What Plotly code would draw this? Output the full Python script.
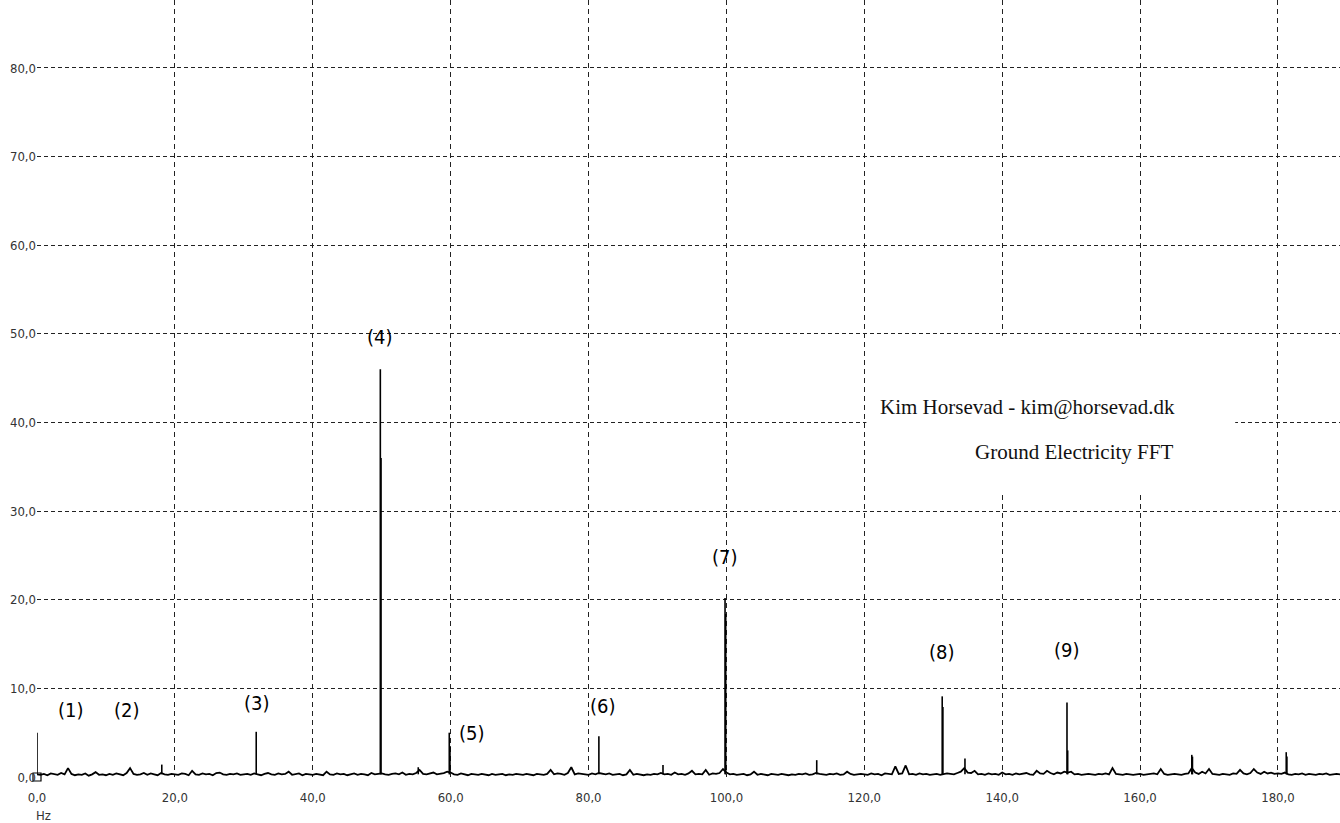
import plotly.graph_objects as go

# ---------------- data ----------------
# noise floor of the FFT, one value every 0.5 Hz from 0 Hz to 189 Hz
noise_start_hz = 0.0
noise_step_hz = 0.5
noise_amp = [
    0.30,0.25,0.35,0.20,0.40,0.30,0.25,0.45,0.30,1.00,0.35,0.20,0.30,0.25,0.40,0.15,0.30,0.55,0.25,0.30,
    0.20,0.35,0.25,0.40,0.30,0.20,0.45,1.00,0.35,0.25,0.30,0.45,0.25,0.40,0.30,0.20,0.45,0.30,0.25,0.35,
    0.30,0.25,0.40,0.35,0.20,0.70,0.30,0.25,0.40,0.30,0.35,0.20,0.45,0.50,0.30,0.25,0.35,0.30,0.40,0.25,
    0.30,0.35,0.25,0.40,0.30,0.20,0.35,0.45,0.30,0.25,0.40,0.30,0.35,0.60,0.25,0.30,0.40,0.20,0.35,0.30,
    0.25,0.35,0.30,0.20,0.60,0.30,0.25,0.40,0.30,0.35,0.20,0.30,0.40,0.25,0.35,0.30,0.20,0.45,0.30,0.35,
    0.40,0.30,0.25,0.35,0.40,0.30,0.50,0.25,0.35,0.30,0.45,0.80,0.35,0.30,0.40,0.50,0.30,0.35,0.45,0.60,
    0.50,0.30,0.25,0.40,0.30,0.20,0.35,0.30,0.25,0.35,0.30,0.20,0.35,0.25,0.30,0.35,0.20,0.30,0.25,0.35,
    0.30,0.25,0.35,0.30,0.20,0.35,0.30,0.25,0.35,0.80,0.30,0.40,0.35,0.25,0.45,1.10,0.30,0.40,0.35,0.30,
    0.25,0.40,0.30,0.45,0.35,0.30,0.40,0.25,0.30,0.35,0.20,0.30,0.80,0.25,0.35,0.30,0.20,0.30,0.25,0.35,
    0.30,0.45,0.30,0.35,0.25,0.50,0.30,0.35,0.25,0.40,0.70,0.30,0.35,0.30,0.80,0.25,0.40,0.35,0.45,0.90,
    0.50,0.30,0.35,0.25,0.30,0.35,0.20,0.30,0.60,0.25,0.35,0.30,0.20,0.35,0.30,0.25,0.35,0.30,0.20,0.30,
    0.25,0.35,0.30,0.40,0.25,0.30,0.45,0.35,0.30,0.25,0.35,0.30,0.40,0.25,0.30,0.60,0.35,0.25,0.30,0.35,
    0.30,0.25,0.40,0.30,0.35,0.20,0.40,0.35,0.30,1.20,0.35,0.40,1.30,0.30,0.35,0.25,0.40,0.30,0.35,0.25,
    0.30,0.35,0.25,0.30,0.40,0.35,0.30,0.45,0.60,1.00,0.50,0.45,0.70,0.30,0.35,0.25,0.40,0.30,0.35,0.25,
    0.50,0.30,0.35,0.25,0.40,0.30,0.35,0.45,0.30,0.25,0.70,0.40,0.35,0.70,0.45,0.30,0.50,0.40,0.60,0.50,
    0.60,0.30,0.35,0.25,0.30,0.35,0.30,0.25,0.35,0.30,0.40,0.30,1.00,0.35,0.30,0.25,0.35,0.30,0.25,0.30,
    0.35,0.25,0.30,0.35,0.40,0.30,0.90,0.35,0.25,0.30,0.35,0.30,0.25,0.35,0.40,1.00,0.50,0.35,0.60,0.40,
    0.90,0.35,0.30,0.25,0.35,0.30,0.25,0.40,0.35,0.80,0.40,0.30,0.45,0.90,0.50,0.35,0.60,0.40,0.50,0.35,
    0.40,0.35,0.50,0.30,0.25,0.35,0.30,0.40,0.25,0.35,0.30,0.25,0.35,0.30,0.40,0.25,0.30,0.35,0.30,
]

# narrow spectral lines: frequency (Hz), peak amplitude, amplitude of the neighbouring bin
spike_freq = [0.0, 18.1, 31.8, 49.8, 55.3, 59.8, 81.5, 90.8, 99.8, 113.1, 131.3, 134.6, 149.4, 167.5, 181.2]
spike_amp  = [5.0, 1.4,  5.1,  46.0, 1.1,  5.0,  4.6,  1.35, 20.2, 1.9,   9.1,   2.1,   8.4,   2.5,   2.8]
spike_amp2 = [0.3, 0.3,  0.3,  36.0, 0.3,  3.5,  0.3,  0.3,  18.4, 0.3,   7.9,   0.3,   3.0,   2.3,   2.3]
spike_base = 0.3

# numbered peak labels
label_text = ["(1)", "(2)", "(3)", "(4)", "(5)", "(6)", "(7)", "(8)", "(9)"]
label_x    = [4.9,  13.05, 31.9, 49.75, 63.1, 82.1, 99.8, 131.3, 149.4]
label_y    = [7.6,  7.6,   8.35, 49.65, 5.0,  8.0,  24.8, 14.1,  14.3]

x_ticks = [0, 20, 40, 60, 80, 100, 120, 140, 160, 180]
x_tick_labels = ["0,0", "20,0", "40,0", "60,0", "80,0", "100,0", "120,0", "140,0", "160,0", "180,0"]
y_ticks = [0, 10, 20, 30, 40, 50, 60, 70, 80]
y_tick_labels = ["0,0", "10,0", "20,0", "30,0", "40,0", "50,0", "60,0", "70,0", "80,0"]

credit_line1 = "Kim Horsevad - kim@horsevad.dk"
credit_line2 = "Ground Electricity FFT"

# ---------------- figure ----------------
fig = go.Figure()

fig.add_trace(go.Scatter(
    y=noise_amp, x0=noise_start_hz, dx=noise_step_hz, mode="lines",
    line=dict(color="black", width=1.8), hoverinfo="skip", showlegend=False))

sx, sy = [], []
for f, a, a2 in zip(spike_freq, spike_amp, spike_amp2):
    sx += [f, f, None]
    sy += [spike_base, a, None]
    if a2 > spike_base:
        sx += [f + 0.1, f + 0.1, None]
        sy += [spike_base, a2, None]
fig.add_trace(go.Scatter(x=sx, y=sy, mode="lines",
                         line=dict(color="black", width=1.6),
                         hoverinfo="skip", showlegend=False))

fig.add_trace(go.Scatter(x=[0], y=[0], mode="markers", cliponaxis=False,
                         marker=dict(symbol="square-open", size=8,
                                     color="black", line=dict(width=1.2)),
                         showlegend=False))

sans = "DejaVu Sans Condensed, DejaVu Sans, sans-serif"
serif = "Liberation Serif, DejaVu Serif, serif"

annotations = []
for t, x, y in zip(label_text, label_x, label_y):
    annotations.append(dict(x=x, y=y, xref="x", yref="y", text=t, showarrow=False,
                            font=dict(family=sans, size=20, color="black"),
                            xanchor="center", yanchor="middle"))
annotations.append(dict(x=122.0, y=41.75, xref="x", yref="y", text=credit_line1,
                        showarrow=False, xanchor="left", yanchor="middle",
                        font=dict(family=serif, size=21, color="#111")))
annotations.append(dict(x=165.1, y=36.67, xref="x", yref="y", text=credit_line2,
                        showarrow=False, xanchor="right", yanchor="middle",
                        font=dict(family=serif, size=21, color="#111")))
annotations.append(dict(x=0.9, y=-0.049, xref="x", yref="paper", text="Hz",
                        showarrow=False, xanchor="center", yanchor="middle",
                        font=dict(family=sans, size=13, color="#333")))

fig.update_layout(
    width=1340, height=823,
    margin=dict(l=37, r=0, t=0, b=46),
    paper_bgcolor="white", plot_bgcolor="white",
    showlegend=False,
    annotations=annotations,
    shapes=[dict(type="rect", xref="x", yref="y", x0=120.3, x1=173.8, y0=32.0, y1=49.8,
                 fillcolor="white", line=dict(width=0), layer="between")],
    xaxis=dict(range=[0, 189.0], tickvals=x_ticks, ticktext=x_tick_labels,
               showgrid=True, gridcolor="#222", gridwidth=1, griddash="5px,4px",
               zeroline=False, showline=False, ticks="outside", ticklen=8,
               tickcolor="rgba(0,0,0,0)",
               tickfont=dict(family=sans, size=13, color="#333")),
    yaxis=dict(range=[0, 87.67], tickvals=y_ticks, ticktext=y_tick_labels,
               showgrid=True, gridcolor="#222", gridwidth=1, griddash="4px,3px",
               zeroline=False, showline=False, ticks="",
               tickfont=dict(family=sans, size=13, color="#333")),
)

fig.write_html("out.html")
